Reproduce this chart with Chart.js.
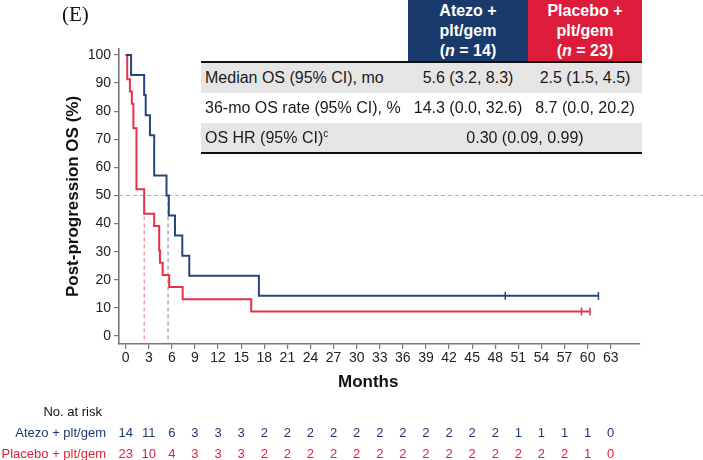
<!DOCTYPE html>
<html>
<head>
<meta charset="utf-8">
<script src="https://cdn.jsdelivr.net/npm/chart.js@4.4.1/dist/chart.umd.min.js"></script>
<style>
html,body{margin:0;padding:0;background:#fff;}
#wrap{position:relative;width:703px;height:460px;overflow:hidden;font-family:"Liberation Sans",Arial,sans-serif;color:#1a1a1a;}
#c{position:absolute;left:0;top:0;}
.abs{position:absolute;white-space:nowrap;}
#panel{left:62px;top:2px;font-family:"Liberation Serif","Times New Roman",serif;font-size:21px;line-height:24px;color:#111;}
.hdr{top:0;height:62px;color:#fff;font-weight:bold;font-size:16px;line-height:20px;text-align:center;padding-top:1px;box-sizing:border-box;}
#hA{left:408px;width:120px;background:#1a3a6c;}
#hP{left:528px;width:114px;background:#dc1c3a;}
.shade{left:201px;width:441px;height:30px;background:#e5e5e5;}
.rule{left:201px;width:441px;height:2px;background:#111;}
.cell{font-size:16px;line-height:30px;height:30px;}
.lab{left:205px;}
.cA{left:408px;width:120px;text-align:center;}
.cP{left:528px;width:114px;text-align:center;}
.cB{left:408px;width:234px;text-align:center;}
.rk{font-size:13px;line-height:16px;}
.rkl{text-align:right;}
.rn{text-align:center;width:30px;}
</style>
</head>
<body>
<div id="wrap">
<canvas id="c" width="703" height="460"></canvas>
<div id="panel" class="abs">(E)</div>
<div id="hA" class="abs hdr">Atezo +<br>plt/gem<br>(<i>n</i> = 14)</div>
<div id="hP" class="abs hdr">Placebo +<br>plt/gem<br>(<i>n</i> = 23)</div>
<div class="abs shade" style="top:63px"></div>
<div class="abs shade" style="top:123px"></div>
<div class="abs rule" style="top:61px"></div>
<div class="abs rule" style="top:152px"></div>
<div class="abs cell lab" style="top:63px">Median OS (95% CI), mo</div>
<div class="abs cell cA" style="top:63px">5.6 (3.2, 8.3)</div>
<div class="abs cell cP" style="top:63px">2.5 (1.5, 4.5)</div>
<div class="abs cell lab" style="top:93px">36-mo OS rate (95% CI), %</div>
<div class="abs cell cA" style="top:93px">14.3 (0.0, 32.6)</div>
<div class="abs cell cP" style="top:93px">8.7 (0.0, 20.2)</div>
<div class="abs cell lab" style="top:123px">OS HR (95% CI)<sup style="font-size:10px;line-height:0">c</sup></div>
<div class="abs cell cB" style="top:123px">0.30 (0.09, 0.99)</div>
<div id="risk"></div>
</div>
<script>
// ---- data ----
const monthTicks = [0,3,6,9,12,15,18,21,24,27,30,33,36,39,42,45,48,51,54,57,60,63];
const survTicks = [0,10,20,30,40,50,60,70,80,90,100];

const atezoTimes = [0, 0.7, 2.4, 2.6, 3.15, 3.7, 5.3, 5.6, 6.4, 7.35, 8.26, 17.3, 61.4];
const atezoSurv  = [100, 92.86, 85.71, 78.57, 71.43, 57.14, 50.0, 42.86, 35.71, 28.57, 21.43, 14.29, 14.29];
const atezoCensorTimes = [49.3, 61.4];
const atezoCensorSurv  = [14.29, 14.29];

const placeboTimes = [0, 0.2, 0.55, 0.8, 1.0, 1.4, 2.4, 3.7, 4.35, 4.45, 4.8, 5.65, 7.4, 16.3, 60.3];
const placeboSurv  = [100, 91.30, 86.96, 82.61, 73.91, 52.17, 43.48, 39.13, 30.43, 26.09, 21.74, 17.39, 13.04, 8.70, 8.70];
const placeboCensorTimes = [59.2, 60.3];
const placeboCensorSurv  = [8.70, 8.70];

const medianLineTimes = [5.5, 2.4];   // Atezo, Placebo (where curves cross 50%)
const refLevel = 50;

const riskLabels = ['Atezo + plt/gem', 'Placebo + plt/gem'];
const atezoRisk   = [14,11,6,3,3,3,2,2,2,2,2,2,2,2,2,2,2,1,1,1,1,0];
const placeboRisk = [23,10,4,3,3,3,2,2,2,2,2,2,2,2,2,2,2,2,2,2,1,0];

// ---- styling ----
const BLUE = '#24467c', RED = '#e8304a';
const AXIS = '#777';
const X_MIN = -0.87, X_MAX = 66.8, Y_MIN = -2.85, Y_MAX = 102.1;

const pts = (xs, ys) => xs.map((x, i) => ({x: x, y: ys[i]}));

const monthsTitle = {
  id: 'monthsTitle',
  afterDraw(chart) {
    const s = chart.scales.x, ctx = chart.ctx;
    const cx = (s.getPixelForValue(monthTicks[0]) + s.getPixelForValue(monthTicks[monthTicks.length-1])) / 2;
    ctx.save();
    ctx.font = 'bold 17px "Liberation Sans", Arial, sans-serif';
    ctx.fillStyle = '#111';
    ctx.textAlign = 'center';
    ctx.textBaseline = 'middle';
    ctx.fillText('Months', cx, 382);
    ctx.restore();
  }
};

const chart = new Chart(document.getElementById('c'), {
  type: 'scatter',
  data: {
    datasets: [
      {data: pts(atezoCensorTimes, atezoCensorSurv), pointStyle: 'line', rotation: 90, pointRadius: 4,
       borderColor: BLUE, backgroundColor: BLUE, pointBorderWidth: 1.5, showLine: false},
      {data: pts(placeboCensorTimes, placeboCensorSurv), pointStyle: 'line', rotation: 90, pointRadius: 4,
       borderColor: RED, backgroundColor: RED, pointBorderWidth: 1.5, showLine: false},
      {data: pts(atezoTimes, atezoSurv), showLine: true, stepped: true, borderColor: BLUE, borderWidth: 2, pointRadius: 0},
      {data: pts(placeboTimes, placeboSurv), showLine: true, stepped: true, borderColor: RED, borderWidth: 2, pointRadius: 0},
      {data: [{x: medianLineTimes[0], y: refLevel}, {x: medianLineTimes[0], y: Y_MIN}], showLine: true,
       borderColor: '#6a86b0', borderWidth: 1, borderDash: [4, 3], pointRadius: 0},
      {data: [{x: medianLineTimes[1], y: refLevel}, {x: medianLineTimes[1], y: Y_MIN}], showLine: true,
       borderColor: '#ef6f80', borderWidth: 1, borderDash: [4, 3], pointRadius: 0},
      {data: [{x: X_MIN, y: refLevel}, {x: 75, y: refLevel}], showLine: true, clip: false,
       borderColor: '#a9b1bd', borderWidth: 1, borderDash: [4, 3], pointRadius: 0}
    ]
  },
  options: {
    responsive: false,
    animation: false,
    events: [],
    layout: {padding: {top: 49, right: 63, left: 0, bottom: 0}},
    plugins: {legend: {display: false}, tooltip: {enabled: false}},
    scales: {
      x: {
        type: 'linear', min: X_MIN, max: X_MAX,
        afterBuildTicks: s => { s.ticks = monthTicks.map(v => ({value: v})); },
        afterFit: s => { s.height = 116; },
        grid: {drawOnChartArea: false, drawTicks: true, tickLength: 5, color: AXIS, lineWidth: 1.2},
        border: {color: AXIS, width: 1.6},
        ticks: {padding: 1, autoSkip: false, maxRotation: 0, color: '#222',
                font: {family: '"Liberation Sans", Arial, sans-serif', size: 14}}
      },
      y: {
        type: 'linear', min: Y_MIN, max: Y_MAX,
        afterBuildTicks: s => { s.ticks = survTicks.map(v => ({value: v})); },
        afterFit: s => { s.width = 119; },
        grid: {drawOnChartArea: false, drawTicks: true, tickLength: 5, color: AXIS, lineWidth: 1.2},
        border: {color: AXIS, width: 1.6},
        ticks: {padding: 3, color: '#222', font: {family: '"Liberation Sans", Arial, sans-serif', size: 14}},
        title: {display: true, text: 'Post-progression OS (%)', color: '#111',
                font: {family: '"Liberation Sans", Arial, sans-serif', size: 17, weight: 'bold'},
                padding: {top: 63, bottom: 0}}
      }
    }
  },
  plugins: [monthsTitle]
});

// ---- number-at-risk table (HTML text, columns at the month ticks) ----
(function buildRisk() {
  const host = document.getElementById('risk');
  const xs = chart.scales.x;
  const labelRight = 106;
  const rows = [
    {label: 'No. at risk', y: 404, color: '#111', vals: null, right: 102},
    {label: riskLabels[0], y: 425, color: '#1e3a6d', vals: atezoRisk, right: labelRight},
    {label: riskLabels[1], y: 446, color: '#e0203c', vals: placeboRisk, right: labelRight}
  ];
  rows.forEach(r => {
    const d = document.createElement('div');
    d.className = 'abs rk rkl';
    d.style.right = (703 - r.right) + 'px';
    d.style.top = r.y + 'px';
    d.style.color = r.color;
    d.textContent = r.label;
    host.appendChild(d);
    if (!r.vals) return;
    r.vals.forEach((v, i) => {
      const n = document.createElement('div');
      n.className = 'abs rk rn';
      n.style.left = (xs.getPixelForValue(monthTicks[i]) - 15) + 'px';
      n.style.top = r.y + 'px';
      n.style.color = r.color;
      n.textContent = v;
      host.appendChild(n);
    });
  });
})();
</script>
</body>
</html>
